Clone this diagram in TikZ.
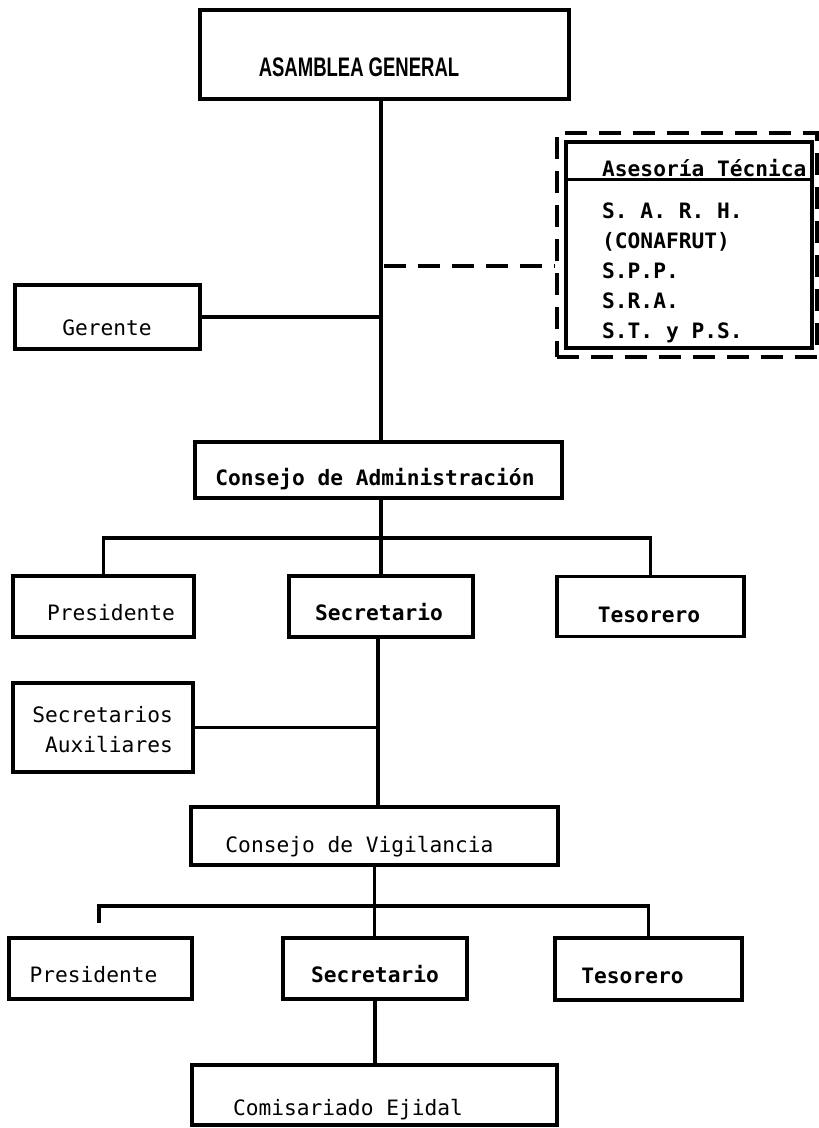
\documentclass[tikz,border=0pt]{standalone}
\usepackage{graphicx}
\usepackage{fontspec}
\setmainfont{Liberation Sans}
\setmonofont{DejaVu Sans Mono}
\begin{document}
\begin{tikzpicture}[x=1pt,y=-1pt,
  unit/.style={draw=black, line width=3.2pt, inner sep=0pt},
  lbl/.style={inner sep=0pt, anchor=base, font=\ttfamily\fontsize{21.2}{30}\selectfont},
  lblb/.style={lbl, font=\ttfamily\bfseries\fontsize{21.2}{30}\selectfont},
  link/.style={line width=3.2pt},
  advice/.style={line width=3.2pt, dash pattern=on 22pt off 12pt},
]
\useasboundingbox (0,0) rectangle (819,1128);

% spine positions of the main vertical line
\coordinate (spine) at (381,0);
\coordinate (spineB) at (378,0);

% ---- boxes ----
\node[unit, minimum width=369pt, minimum height=89pt] (asamblea) at (384.5,54.5) {};
\node[unit, minimum width=185pt, minimum height=64pt] (gerente) at (107.5,317) {};
\node[unit, minimum width=246pt, minimum height=206pt] (asesoria) at (689,245) {};
\node[unit, dash pattern=on 22pt off 12pt, minimum width=260pt, minimum height=224pt] (asesoriaframe) at (687,245) {};
\node[unit, minimum width=367pt, minimum height=56pt] (admin) at (378.5,470) {};
\node[unit, minimum width=181pt, minimum height=61pt] (pres1) at (103.5,606.5) {};
\node[unit, minimum width=184pt, minimum height=61pt] (sec1) at (381,606.5) {};
\node[unit, minimum width=187pt, minimum height=60pt] (tes1) at (650.5,606.5) {};
\node[unit, minimum width=180pt, minimum height=89pt] (aux) at (103,727.5) {};
\node[unit, minimum width=367pt, minimum height=58pt] (vig) at (374.5,836) {};
\node[unit, minimum width=183pt, minimum height=61pt] (pres2) at (100.5,968.5) {};
\node[unit, minimum width=184pt, minimum height=61pt] (sec2) at (375,968.5) {};
\node[unit, minimum width=187pt, minimum height=62pt] (tes2) at (648.5,969) {};
\node[unit, minimum width=365pt, minimum height=60pt] (comis) at (374.5,1095) {};

% header rule of the advisory box
\draw[link] ([yshift=-39pt]asesoria.north west) -- ([yshift=-39pt]asesoria.north east);

% ---- texts ----
\node[inner sep=0pt, anchor=base, font=\bfseries\fontsize{18.5}{22}\selectfont] (asambleaT) at (359,76) {\scalebox{1}[1.45]{ASAMBLEA GENERAL}};
\node[lbl] (gerenteT) at (107,335) {Gerente};
\node[lblb, anchor=base west] (asesoriaT) at (602,176) {Asesoría Técnica};
\foreach \t [count=\i] in {S. A. R. H., (CONAFRUT), S.P.P., S.R.A., S.T. y P.S.}
  \node[lblb, anchor=base west] (asesor\i) at (602,{188+30*\i}) {\t};
\node[lblb] (adminT) at (375,485) {Consejo de Administración};
\node[lbl] (pres1T) at (111,620) {Presidente};
\node[lblb] (sec1T) at (379,620) {Secretario};
\node[lblb] (tes1T) at (649,622) {Tesorero};
\node[lbl, anchor=east, align=right] (auxT) at (173,730) {Secretarios\\Auxiliares};
\node[lbl] (vigT) at (359.5,852) {Consejo de Vigilancia};
\node[lbl] (pres2T) at (93.5,982) {Presidente};
\node[lblb] (sec2T) at (375,982) {Secretario};
\node[lblb] (tes2T) at (632.5,983) {Tesorero};
\node[lbl] (comisT) at (348,1115) {Comisariado Ejidal};

% ---- connectors ----
\draw[link] (asamblea.south -| spine) -- (admin.north -| spine);
\draw[link] (gerente.east) -- (gerente.east -| spine);
\coordinate (advicetap) at (384,266);
\draw[advice] (advicetap) -- (advicetap -| asesoriaframe.west);

\draw[link] (admin.south -| spine) -- (sec1.north -| spine);
\coordinate (bus1) at (380,538);
\draw[link] (pres1.north) |- (bus1) -| (tes1.north);

\draw[link] (sec1.south -| spineB) -- (vig.north -| spineB);
\draw[link] (aux.east) -- (aux.east -| spineB);

\draw[link] (vig.south) -- (vig.south |- sec2.north);
\coordinate (bus2) at (375,906);
\coordinate (pres2lead) at (99,923);
\draw[link] (pres2lead) |- (bus2) -| (tes2.north);

\draw[link] (sec2.south) -- (sec2.south |- comis.north);
\end{tikzpicture}
\end{document}
